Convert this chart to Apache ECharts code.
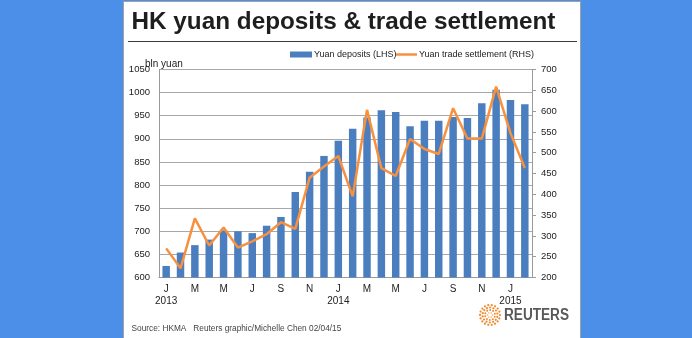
<!DOCTYPE html>
<html>
<head>
<meta charset="utf-8">
<script src="https://cdn.jsdelivr.net/npm/echarts@6/dist/echarts.min.js"></script>
<style>
  html, body { margin: 0; padding: 0; background: #4c8fe9; }
  #chart { width: 692px; height: 338px; }
</style>
</head>
<body>
<div id="chart"></div>
<script>
// Months Jan 2013 - Feb 2015
const months = ['J','F','M','A','M','J','J','A','S','O','N','D',
                'J','F','M','A','M','J','J','A','S','O','N','D',
                'J','F'];
// Year shown under the January of each year (index -> year)
const yearLabels = { 0: '2013', 12: '2014', 24: '2015' };

// Hong Kong yuan deposits, bln yuan (left axis)
const deposits = [625, 654, 670, 682, 702, 700, 696, 712, 731, 785, 829, 863,
                  896, 922, 946, 962, 958, 927, 939, 939, 947, 945, 977, 1006,
                  984, 975];

// Yuan trade settlement, bln yuan (right axis)
const settlement = [270, 222, 342, 277, 320, 272, 287, 304, 333, 317, 440, 467,
                    492, 395, 603, 463, 444, 533, 509, 497, 607, 534, 534, 659,
                    547, 463];

const leftTicks = { min: 600, max: 1050, interval: 50 };
const rightTicks = { min: 200, max: 700, interval: 50 };

const FONT = '"Liberation Sans", Arial, sans-serif';
const plainNumber = function (v) { return String(v); };

// Reuters logo: rings of orange dots
const logoDots = [];
const cx = 490, cy = 315;
[[2.5, 6, 0.9], [5, 10, 1.0], [7.5, 14, 1.1], [10, 18, 1.1]].forEach(function (ring, k) {
  const r = ring[0], n = ring[1], dot = ring[2];
  for (let j = 0; j < n; j++) {
    const a = (j / n) * Math.PI * 2 + k * 0.35;
    logoDots.push({
      type: 'circle',
      shape: { cx: cx + r * Math.cos(a), cy: cy + r * Math.sin(a), r: dot },
      style: { fill: k === 0 ? '#f9c48f' : '#f08a2c' },
      silent: true
    });
  }
});

const chart = echarts.init(document.getElementById('chart'), null, { renderer: 'canvas' });

const legendText = { fontFamily: FONT, fontSize: 9, color: '#222', padding: [0, 0, 0, -3] };

chart.setOption({
  backgroundColor: '#4c8fe9',
  animation: false,
  title: {
    text: 'HK yuan deposits & trade settlement',
    left: 126.5,
    top: 5,
    textStyle: { fontFamily: FONT, fontSize: 24.3, fontWeight: 'bold', color: '#1e1e1e' }
  },
  legend: [
    {
      left: 285,
      top: 45,
      itemWidth: 22,
      itemHeight: 6,
      textStyle: legendText,
      data: [{ name: 'Yuan deposits (LHS)', icon: 'rect' }]
    },
    {
      left: 391,
      top: 45,
      itemWidth: 21,
      itemHeight: 2.5,
      textStyle: legendText,
      data: [{ name: 'Yuan trade settlement (RHS)', icon: 'rect' }]
    }
  ],
  grid: { left: 159, right: 160, top: 69.5, bottom: 60.5, containLabel: false },
  xAxis: {
    type: 'category',
    data: months,
    boundaryGap: true,
    axisLine: { lineStyle: { color: '#9a9a9a', width: 1 } },
    axisTick: { show: false },
    axisLabel: {
      interval: 1,
      margin: 6,
      fontFamily: FONT,
      fontSize: 10,
      color: '#222',
      lineHeight: 11.5,
      formatter: function (value, index) {
        return yearLabels[index] ? value + '\n' + yearLabels[index] : value;
      }
    }
  },
  yAxis: [
    {
      type: 'value',
      min: leftTicks.min, max: leftTicks.max, interval: leftTicks.interval,
      axisLine: { show: true, lineStyle: { color: '#9a9a9a' } },
      axisTick: { show: false },
      axisLabel: { fontFamily: FONT, fontSize: 9.5, color: '#222', margin: 9, formatter: plainNumber },
      splitLine: { lineStyle: { color: '#a8a8a8', width: 1 } }
    },
    {
      type: 'value',
      min: rightTicks.min, max: rightTicks.max, interval: rightTicks.interval,
      axisLine: { show: true, lineStyle: { color: '#9a9a9a' } },
      axisTick: { show: true, length: 4, lineStyle: { color: '#9a9a9a' } },
      axisLabel: { fontFamily: FONT, fontSize: 9.5, color: '#222', margin: 9, formatter: plainNumber },
      splitLine: { show: false }
    }
  ],
  series: [
    {
      name: 'Yuan deposits (LHS)',
      type: 'bar',
      yAxisIndex: 0,
      data: deposits,
      barWidth: '52%',
      itemStyle: { color: '#4a7ebf' }
    },
    {
      name: 'Yuan trade settlement (RHS)',
      type: 'line',
      yAxisIndex: 1,
      data: settlement,
      symbol: 'none',
      lineStyle: { color: '#f7913f', width: 2.5 },
      itemStyle: { color: '#f7913f' }
    }
  ],
  graphic: [
    {
      type: 'rect', z: -10, silent: true,
      shape: { x: 123.5, y: 1.5, width: 457, height: 340 },
      style: { fill: '#ffffff', stroke: '#a0a0a0', lineWidth: 1 }
    },
    {
      type: 'line', silent: true,
      shape: { x1: 128, y1: 41.5, x2: 577, y2: 41.5 },
      style: { stroke: '#3a3a3a', lineWidth: 1.2 }
    },
    {
      type: 'text', silent: true, z: 10,
      style: { text: 'bln yuan', x: 145, y: 69, fontFamily: FONT, fontSize: 10, fill: '#222', verticalAlign: 'bottom' }
    },
    {
      type: 'text', silent: true,
      style: { text: 'Source: HKMA   Reuters graphic/Michelle Chen 02/04/15', x: 131.5, y: 328.5,
               fontFamily: FONT, fontSize: 8.3, fill: '#444', verticalAlign: 'middle' }
    },
    {
      type: 'text', silent: true,
      x: 504, y: 315.5, scaleX: 0.85,
      style: { text: 'REUTERS', x: 0, y: 0, fontFamily: FONT, fontSize: 16, fontWeight: 'bold',
               fill: '#595959', verticalAlign: 'middle' }
    }
  ].concat(logoDots)
});
</script>
</body>
</html>
